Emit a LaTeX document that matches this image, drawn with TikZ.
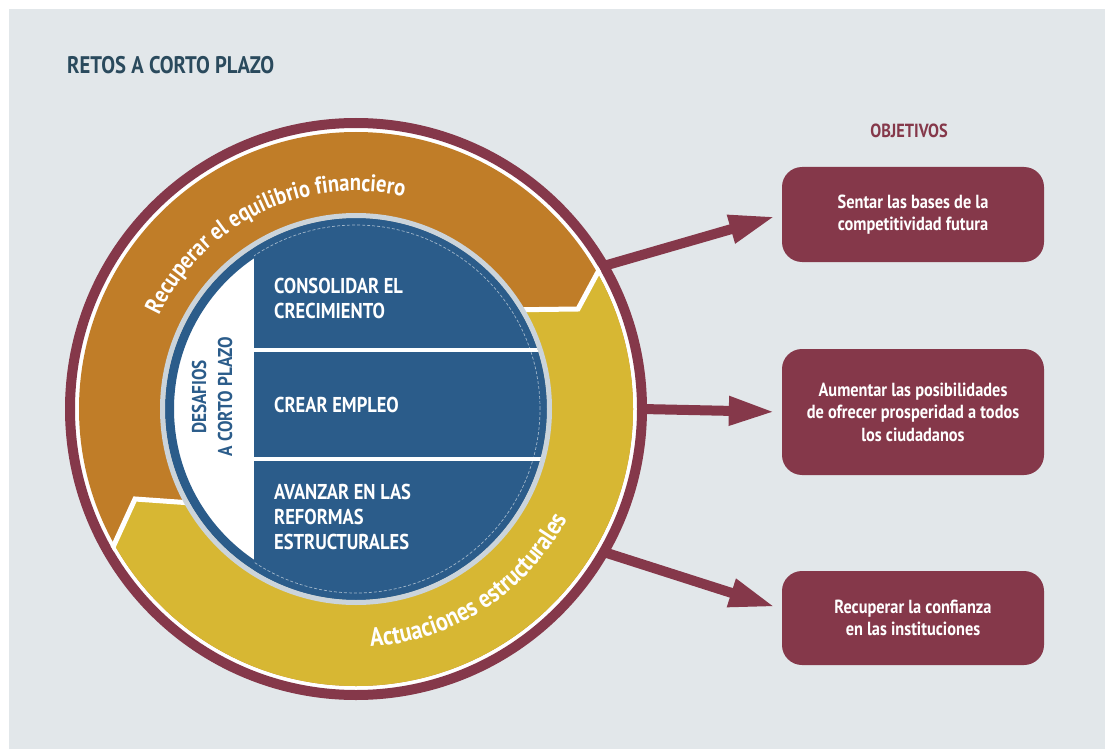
\documentclass[tikz,border=0pt]{standalone}
\usepackage{fontspec}
\setmainfont{PT Sans}[FakeStretch=0.86]
\usetikzlibrary{arrows.meta,positioning,calc,decorations.text}
\definecolor{bg}{HTML}{E2E7EA}
\definecolor{wine}{HTML}{85384A}
\definecolor{ochre}{HTML}{C07D28}
\definecolor{mustard}{HTML}{D7B733}
\definecolor{navy}{HTML}{2B5C8A}
\definecolor{haze}{HTML}{CBD4DB}
\definecolor{slate}{HTML}{2A4A5D}

\begin{document}
\begin{tikzpicture}[x=1pt,y=1pt,
  objbox/.style={rounded corners=20pt, fill=wine, text=white, minimum width=262pt,
    minimum height=95pt, align=center, inner sep=0pt,
    font=\bfseries\fontsize{19}{22.5}\selectfont},
  sect/.style={anchor=west, align=left, inner sep=0pt, text=white,
    font=\bfseries\fontsize{21.5}{25}\selectfont},
  link/.style={wine, line width=10pt, -{Triangle[length=46pt,width=27pt]}, shorten >=7pt},
  seam/.style={white, line width=5pt}]
  \useasboundingbox (0,0) rectangle (1109,-749);
  \fill[white] (0,0) rectangle (1109,-749);
  \fill[bg] (9,-9) rectangle (1105,-749);
  \coordinate (c) at (356,-409);
  % title
  \node[anchor=west, inner sep=0pt, text=slate, font=\bfseries\fontsize{24}{28}\selectfont]
    (title) at (67,-65) {RETOS A CORTO PLAZO};
  % objectives
  \node[text=wine, font=\bfseries\fontsize{19}{22}\selectfont] (objt) at (909,-131) {OBJETIVOS};
  \node[objbox] (box1) at (913,-214.5) {Sentar las bases de la\\competitividad futura};
  \node[objbox, minimum height=126pt] (box2) at (913,-412)
    {Aumentar las posibilidades\\de ofrecer prosperidad a todos\\los ciudadanos};
  \node[objbox, minimum height=94pt] (box3) at (913,-618) {Recuperar la confianza\\en las instituciones};
  % outer ring
  \node[circle, draw=wine, line width=10pt, fill=white, minimum size=572pt, outer sep=0pt] (ring) at (c) {};
  % the two bands
  \fill[ochre] (c) circle[radius=277];
  \begin{scope}
    \clip (c) circle[radius=277];
    \fill[mustard] (c) -- (500,-310) -- (578,-309) -- (612,-246) -- (800,-246) -- (800,-800)
      -- (50,-800) -- (98,-580) -- (135,-499) -- (220,-505) -- cycle;
  \end{scope}
  \begin{scope}
    \clip (c) circle[radius=281];
    \draw[seam] (500,-310) -- (578,-309) -- (612,-246);
    \draw[seam] (220,-505) -- (135,-499) -- (98,-580);
  \end{scope}
  % band labels
  \path[decorate, decoration={text along path, text align=center, text color=white,
    text={|\bfseries\fontsize{24}{24}\selectfont|Recuperar el equilibrio financiero}}]
    ($(c)+(176:218)$) arc[start angle=176, end angle=56, radius=218];
  \path[decorate, decoration={text along path, text align=center, text color=white,
    text={|\bfseries\fontsize{26}{26}\selectfont|Actuaciones estructurales}}]
    ($(c)+(-118:238)$) arc[start angle=-118, end angle=4, radius=238];
  % inner disc
  \fill[white] (c) circle[radius=191];
  \begin{scope}
    \clip (c) circle[radius=191];
    \fill[navy] (254,-200) rectangle (560,-620);
  \end{scope}
  \draw[navy, line width=9pt] (c) circle[radius=186.5];
  \draw[haze, line width=5pt] (c) circle[radius=193.5];
  \begin{scope}
    \clip (254,-200) rectangle (560,-620);
    \draw[navy!45!white, line width=0.7pt, dash pattern=on 3pt off 2pt] (c) circle[radius=184];
  \end{scope}
  \begin{scope}
    \clip (c) circle[radius=191];
    \foreach \yy in {350,459} {
      \draw[white, line width=4pt] (254,-\yy) -- (560,-\yy);
    }
  \end{scope}
  \node[sect] (s1) at (274,-298) {CONSOLIDAR EL\\CRECIMIENTO};
  \node[sect] (s2) at (274,-405) {CREAR EMPLEO};
  \node[sect] (s3) at (274,-517) {AVANZAR EN LAS\\REFORMAS\\ESTRUCTURALES};
  \node[rotate=90, align=center, inner sep=0pt, text=navy, font=\bfseries\fontsize{20}{26}\selectfont]
    (desaf) at (212,-397) {DESAFIOS\\A CORTO PLAZO};
  % arrows to the objectives
  \draw[link] (ring.30) -- (box1.west);
  \draw[link] (ring.0) -- (box2.west);
  \draw[link] (ring.-30) -- ([yshift=9pt]box3.west);
\end{tikzpicture}
\end{document}
